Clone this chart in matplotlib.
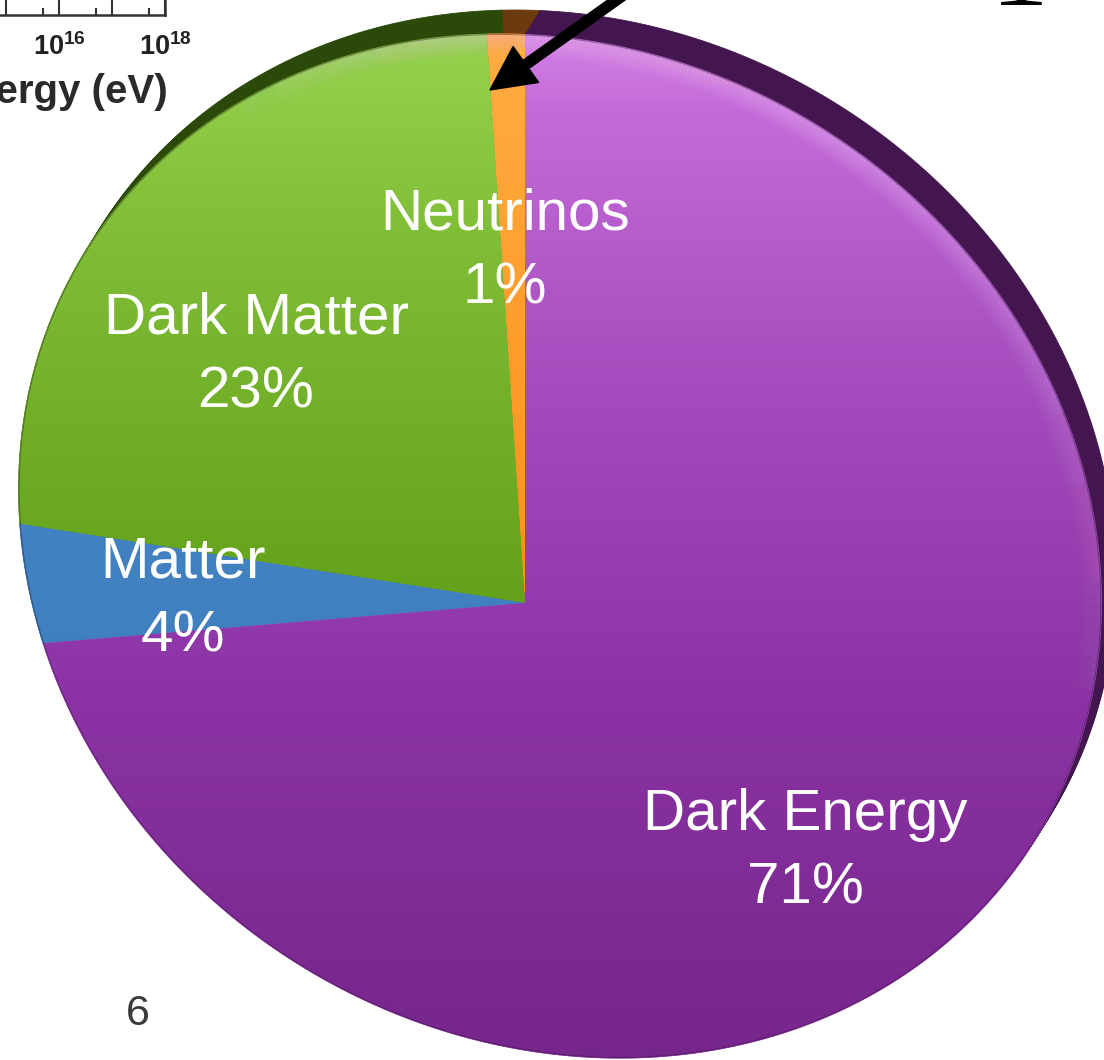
import numpy as np
import matplotlib
matplotlib.use("Agg")
import matplotlib.pyplot as plt
from matplotlib.patches import Polygon
from matplotlib.collections import LineCollection
from matplotlib.colors import LinearSegmentedColormap, to_rgba
from matplotlib.ticker import FixedLocator, FuncFormatter, NullFormatter

plt.rcParams['mathtext.fontset'] = 'custom'
plt.rcParams['mathtext.rm'] = 'Liberation Sans:bold'
plt.rcParams['mathtext.it'] = 'Liberation Sans:bold'
plt.rcParams['mathtext.bf'] = 'Liberation Sans:bold'

# ---- data -----------------------------------------------------------------
components = ["Neutrinos", "Dark Matter", "Matter", "Dark Energy"]
shares = [1, 23, 4, 71]                      # percent of the energy budget
energy_label_exponents = [16, 18]            # labelled decades on the energy axis

# face gradients (top -> bottom) and side-wall colours
face_stops = {
    "Neutrinos":   [(0.0, "#ffae45"), (0.5, "#ff931f"), (1.0, "#ff8a14")],
    "Dark Matter": [(0.0, "#9ad652"), (0.25, "#7dbb34"), (0.55, "#66a31c"), (1.0, "#5e9a16")],
    "Matter":      [(0.0, "#4a8ccb"), (1.0, "#3a78b8")],
    "Dark Energy": [(0.0, "#d98cec"), (0.1, "#c56bd9"), (0.35, "#a64ebf"),
                    (0.65, "#8c33a5"), (1.0, "#76268b")],
}
side_colors = {
    "Neutrinos": "#6b3a0e",
    "Dark Matter": "#2b4a09",
    "Matter": "#1f3d5c",
    "Dark Energy": "#431650",
}

# ---- layout (pixels) ------------------------------------------------------
W, H = 1104, 1060
cx, cy, rx, ry, shear = 560.0, 546.0, 538.0, 512.0, 0.117
apex = np.array([525.0, 603.0])
rim_shift = np.array([15.0, -24.0])
label_pos = [(505, 229), (256, 333), (183, 578), (805, 830)]
line_gap = 74

# projective map of the unit disc onto the tilted pie face
A = np.array([[rx, -shear * ry, cx], [0.0, -ry, cy], [0.0, 0.0, 1.0]])
p = np.linalg.solve(A, np.array([apex[0], apex[1], 1.0]))[:2]
pp = p @ p
g = 1.0 / np.sqrt(1.0 - pp)
B = np.eye(3)
B[:2, :2] += (g - 1.0) * np.outer(p, p) / pp
B[:2, 2] = g * p
B[2, :2] = g * p
B[2, 2] = g
Hm = A @ B


def project(pts):
    h = np.c_[pts, np.ones(len(pts))] @ Hm.T
    return h[:, :2] / h[:, 2:]


# angle on the disc that lands straight above the centre
th = np.radians(np.arange(0.0, 360.0, 0.01))
ring = project(np.c_[np.cos(th), np.sin(th)])
score = np.where(ring[:, 1] < apex[1], np.abs(ring[:, 0] - apex[0]), np.inf)
start = float(np.degrees(th[np.argmin(score)]))

fig = plt.figure(figsize=(W / 100, H / 100), dpi=100)
ax = fig.add_axes([0, 0, 1, 1])
wedges, _ = ax.pie(shares, startangle=start, counterclock=True,
                   radius=1.0, center=(0, 0))

outlines = []
for w in wedges:
    t = np.radians(np.linspace(w.theta1, w.theta2, 600))
    disc = np.vstack([[0.0, 0.0], np.c_[np.cos(t), np.sin(t)]])
    outlines.append(project(disc))
    w.remove()

ax.set_aspect('auto')
ax.set_xlim(0, W)
ax.set_ylim(H, 0)
ax.axis('off')

# side walls of the slab
for name, pts in zip(components, outlines):
    for f in np.linspace(0.0, 1.0, 20):
        ax.add_patch(Polygon(pts + f * rim_shift, closed=True,
                             fc=side_colors[name], ec=side_colors[name],
                             lw=0.6, zorder=1))

# top faces with vertical shading
ramp = np.linspace(0, 1, H)[:, None] * np.ones((1, 2))
for name, pts in zip(components, outlines):
    stops = face_stops[name]
    patch = Polygon(pts, closed=True, fc=stops[len(stops) // 2][1],
                    ec=stops[len(stops) // 2][1], lw=0.8, zorder=2)
    ax.add_patch(patch)
    cmap = LinearSegmentedColormap.from_list(name, stops)
    im = ax.imshow(ramp, extent=(0, W, H, 0), cmap=cmap, vmin=0, vmax=1,
                   aspect='auto', origin='upper', interpolation='bilinear',
                   zorder=3)
    im.set_clip_path(patch)

# soft light along the upper rim of the face, dark hairline elsewhere
face_clip = Polygon(ring, closed=True, fc='none', ec='none')
ax.add_patch(face_clip)
arc_t = np.radians(np.linspace(start + 35, start - 110, 500))
arc = project(np.c_[np.cos(arc_t), np.sin(arc_t)])
segs = np.stack([arc[:-1], arc[1:]], axis=1)
s = np.linspace(0, 1, len(segs))
fade = np.interp(s, [0.0, 0.18, 0.45, 0.75, 1.0], [0.0, 0.8, 1.0, 0.35, 0.0])
for k in range(14):
    cols = np.array([to_rgba("#f8ccff", 0.035 * f) for f in fade])
    lc = LineCollection(segs, colors=cols, linewidths=2 + 2.2 * k, zorder=4,
                        capstyle='butt')
    ax.add_collection(lc)
    lc.set_clip_path(face_clip)
edge = ax.plot(np.r_[ring[:, 0], ring[0, 0]], np.r_[ring[:, 1], ring[0, 1]],
               color='#2a1030', alpha=0.4, lw=1.4, zorder=4)[0]
edge.set_clip_path(face_clip)

# slice labels
for (x, y), name, val in zip(label_pos, components, shares):
    ax.text(x, y, name, ha='center', va='baseline', color='white',
            fontsize=42, family='Liberation Sans', zorder=6)
    ax.text(x, y + line_gap, f"{val}%", ha='center', va='baseline',
            color='white', fontsize=42, family='Liberation Sans', zorder=6)

# pointer to the neutrino slice
ax.arrow(660, -31, -170, 121, width=10, head_width=44, head_length=44,
         length_includes_head=True, fc='black', ec='black', zorder=8)

# fragment of a title glyph at the top edge
ax.text(1020, 5, "1", ha='center', va='baseline', fontsize=83,
        family='Liberation Serif', color='black', zorder=8)

# slide number
ax.text(138, 1014, "6", ha='center', va='center', fontsize=31,
        family='Liberation Sans', color='#3a3a3a', zorder=8)

# energy-axis fragment in the corner
left_px, right_px, base_px = -300.0, 165.0, 15.0
decade_px = 53.0
axi = fig.add_axes([left_px / W, 1 - base_px / H, (right_px - left_px) / W, 300 / H])
axi.set_xscale('log')
axi.set_xlim(10 ** (18 - (right_px - left_px) / decade_px), 1e18)
axi.set_ylim(0, 1)
axi.xaxis.set_major_locator(FixedLocator([10.0 ** n for n in range(8, 19)]))
axi.xaxis.set_minor_locator(FixedLocator([5 * 10.0 ** n for n in range(8, 18)]))
axi.xaxis.set_major_formatter(FuncFormatter(
    lambda v, pos: (r"$10^{%d}$" % round(np.log10(v)))
    if round(np.log10(v)) in energy_label_exponents else ""))
axi.xaxis.set_minor_formatter(NullFormatter())
axi.tick_params(axis='x', which='major', direction='in', length=11.5, width=1.5,
                color='#333333', pad=13, labelsize=19.5, labelcolor='#222222')
axi.tick_params(axis='x', which='minor', direction='in', length=5, width=1.5,
                color='#333333')
axi.tick_params(axis='y', left=False, labelleft=False)
for sp in ['top', 'left']:
    axi.spines[sp].set_visible(False)
for sp in ['bottom', 'right']:
    axi.spines[sp].set_linewidth(1.8)
    axi.spines[sp].set_color('#333333')
axi.patch.set_alpha(0)

ax.text(168, 103, "Energy (eV)", ha='right', va='baseline', fontsize=29,
        family='Liberation Sans', fontweight='bold', color='#2a2a2a', zorder=8)

fig.savefig("out.png", dpi=100)
